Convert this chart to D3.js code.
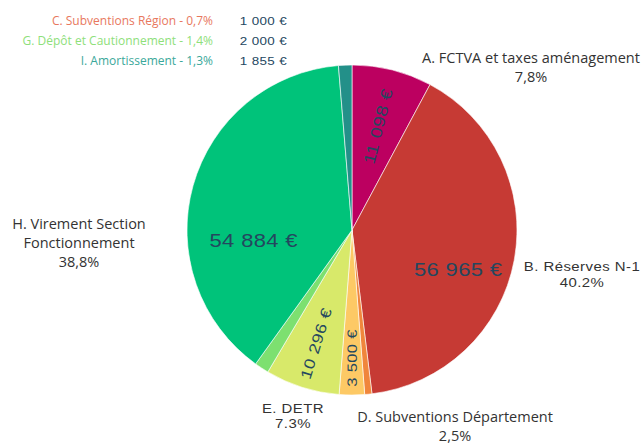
<!DOCTYPE html>
<html>
<head>
<meta charset="utf-8">
<script src="https://cdn.jsdelivr.net/npm/d3@7"></script>
<style>
body { margin: 0; background: #fff; }
</style>
</head>
<body>
<script>
// données du budget d'investissement
var codes = ["A", "B", "C", "D", "E", "G", "H", "I"];
var names = ["FCTVA et taxes aménagement", "Réserves N-1", "Subventions Région", "Subventions Département",
             "DETR", "Dépôt et Cautionnement", "Virement Section Fonctionnement", "Amortissement"];
var values = [11098, 56965, 1000, 3500, 10296, 2000, 54884, 1855];
var percents = ["7,8%", "40.2%", "0,7%", "2,5%", "7.3%", "1,4%", "38,8%", "1,3%"];
var colors = ["#bc0060", "#c63a34", "#f0863c", "#fdc965", "#d8e96a", "#7de070", "#00c37a", "#239089"];
var legendColors = { C: "#e8785e", G: "#8ee07a", I: "#3aa89a" };

var w = 644;
var h = 443;
var cx = 352, cy = 230, r = 165;
var wide = 1.22; // police étirée

var svg = d3.select("body").append("svg")
    .attr("width", w)
    .attr("height", h);

var data = codes.map(function(c, i) {
    return { code: c, name: names[i], value: values[i], pct: percents[i], color: colors[i] };
});

var pie = d3.pie().sort(null).value(function(d) { return d.value; });
var arc = d3.arc().innerRadius(0).outerRadius(r);
var arcs = pie(data);

var g = svg.append("g").attr("transform", "translate(" + cx + "," + cy + ")");

g.selectAll("path")
    .data(arcs)
    .enter()
    .append("path")
    .attr("d", arc)
    .attr("fill", function(d) { return d.data.color; })
    .attr("stroke", "#fff")
    .attr("stroke-width", 0.6);

function fmt(v) {
    return d3.format(",")(v).replace(/,/g, " ") + " €";
}

// étiquettes de valeur dans les parts
var big = ["B", "H"];
var labelRadius = { A: 107, B: 108, D: 128, E: 119, H: 102 };
var labelDy = { B: 20, H: 38 };
var labelSize = { A: 16, B: 18, D: 13.5, E: 15, H: 18 };
var shown = arcs.filter(function(d) { return labelRadius[d.data.code] !== undefined; });

g.selectAll("text.val")
    .data(shown)
    .enter()
    .append("text")
    .attr("class", "val")
    .attr("transform", function(d) {
        var a = (d.startAngle + d.endAngle) / 2;
        var rr = labelRadius[d.data.code];
        var x = rr * Math.sin(a), y = -rr * Math.cos(a) + (labelDy[d.data.code] || 0);
        var deg = a * 180 / Math.PI;
        var rot = 0;
        if (big.indexOf(d.data.code) < 0) rot = deg < 180 ? deg - 90 : deg - 270;
        return "translate(" + x + "," + y + ") rotate(" + rot + ") scale(" + wide + ",1)";
    })
    .attr("text-anchor", "middle")
    .attr("dy", "0.35em")
    .attr("font-family", "'Liberation Sans', sans-serif")
    .attr("font-size", function(d) { return labelSize[d.data.code] + "px"; })
    .attr("letter-spacing", "0.3px")
    .attr("fill", "#24475f")
    .text(function(d) { return fmt(d.data.value); });

// étiquettes extérieures
var outer = [
    { code: "A", x: 531, y: 63, lines: ["A. FCTVA et taxes aménagement", "7,8%"], font: "'Open Sans', sans-serif", lh: 19, sx: 1 },
    { code: "B", x: 582, y: 271, lines: ["B. Réserves N-1", "40.2%"], font: "'Liberation Sans', sans-serif", lh: 16, sx: 1.15 },
    { code: "D", x: 455, y: 422, lines: ["D. Subventions Département", "2,5%"], font: "'Open Sans', sans-serif", lh: 19, sx: 1 },
    { code: "E", x: 293, y: 413, lines: ["E. DETR", "7.3%"], font: "'Liberation Sans', sans-serif", lh: 15, sx: 1.15 },
    { code: "H", x: 79, y: 229, lines: ["H. Virement Section", "Fonctionnement", "38,8%"], font: "'Open Sans', sans-serif", lh: 19, sx: 1 }
];

var ol = svg.selectAll("text.outer")
    .data(outer)
    .enter()
    .append("text")
    .attr("class", "outer")
    .attr("transform", function(d) { return "translate(" + d.x + "," + d.y + ") scale(" + d.sx + ",1)"; })
    .attr("text-anchor", "middle")
    .attr("font-family", function(d) { return d.font; })
    .attr("font-size", function(d) { return d.sx > 1 ? "13px" : "14.5px"; })
    .attr("letter-spacing", function(d) { return d.sx > 1 ? "0.4px" : "0px"; })
    .attr("fill", "#333");

ol.selectAll("tspan")
    .data(function(d) { return d.lines.map(function(l, i) { return { t: l, y: i * d.lh }; }); })
    .enter()
    .append("tspan")
    .attr("x", 0)
    .attr("y", function(d) { return d.y; })
    .text(function(d) { return d.t; });

// petites parts en légende
var small = data.filter(function(d) { return legendColors[d.code]; });

svg.selectAll("text.leg")
    .data(small)
    .enter()
    .append("text")
    .attr("class", "leg")
    .attr("x", 213)
    .attr("y", function(d, i) { return 25 + i * 20; })
    .attr("text-anchor", "end")
    .attr("font-family", "'Open Sans', sans-serif")
    .attr("font-size", "12px")
    .attr("fill", function(d) { return legendColors[d.code]; })
    .text(function(d) { return d.code + ". " + d.name + " - " + d.pct; });

svg.selectAll("text.legval")
    .data(small)
    .enter()
    .append("text")
    .attr("class", "legval")
    .attr("transform", function(d, i) { return "translate(287," + (25 + i * 20) + ") scale(" + wide + ",1)"; })
    .attr("text-anchor", "end")
    .attr("font-family", "'Liberation Sans', sans-serif")
    .attr("font-size", "11px")
    .attr("letter-spacing", "0.3px")
    .attr("fill", "#24475f")
    .text(function(d) { return fmt(d.value); });
</script>
</body>
</html>
